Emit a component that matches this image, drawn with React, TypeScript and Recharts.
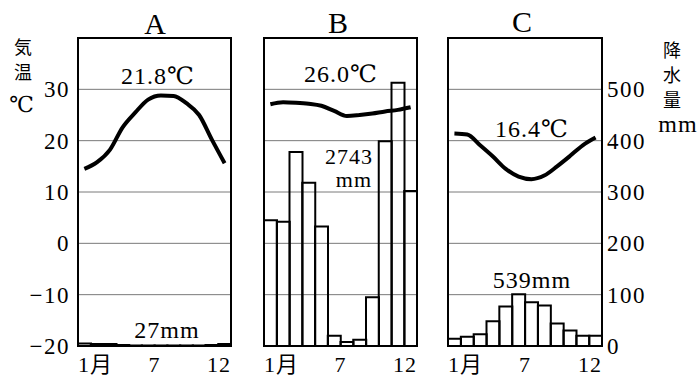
import React from 'react';
import { ComposedChart, Bar, Line, XAxis, YAxis, CartesianGrid, ReferenceArea } from 'recharts';

const months = [1, 2, 3, 4, 5, 6, 7, 8, 9, 10, 11, 12];
const tempA = [14.5, 15.8, 18.2, 22.6, 25.5, 28.0, 28.8, 28.7, 27.3, 25.0, 20.2, 15.6];
const precA = [5, 4, 4, 2, 1, 1, 1, 1, 1, 1, 2, 4];
const tempB = [27.1, 27.5, 27.4, 27.2, 26.8, 25.8, 24.8, 25.0, 25.3, 25.7, 26.0, 26.5];
const precB = [245, 242, 378, 318, 233, 20, 8, 12, 95, 399, 513, 302];
const tempC = [21.4, 21.2, 19.1, 16.9, 14.5, 13.0, 12.5, 13.2, 15.0, 17.0, 19.1, 20.6];
const precC = [14, 18, 23, 48, 77, 101, 85, 79, 44, 30, 20, 20];

const tempTicks = [-20, -10, 0, 10, 20, 30];
const precTicks = [0, 100, 200, 300, 400, 500];
const xTickValues = [0.5, 6.5, 12.5];
const xTickLabels = ['1月', '7', '12'];

const SERIF = '"Liberation Serif", "DejaVu Serif", "Noto Sans CJK JP", serif';

const build = (t: number[], p: number[]) => months.map((m, i) => ({ m, t: t[i], p: p[i] }));

const XTick = (props: any) => {
  const { x, y, payload } = props;
  const idx = xTickValues.indexOf(payload.value);
  const anchor = idx === 0 ? 'start' : idx === 2 ? 'end' : 'middle';
  return (
    <text x={x} y={y} dy="0.71em" textAnchor={anchor} fontFamily={SERIF} fontSize={22} letterSpacing={1} fill="#000">
      {xTickLabels[idx]}
    </text>
  );
};

const fmtT = (v: number) => (v < 0 ? '−' + Math.abs(v) : String(v));

interface PanelProps {
  temp: number[];
  prec: number[];
  left: number;
  width: number;
  margin: { top: number; right: number; bottom: number; left: number };
  showLeft?: boolean;
  showRight?: boolean;
}

const tickStyle = { fill: '#000', fontSize: 23, fontFamily: SERIF, letterSpacing: 1.5 };

const Panel = ({ temp, prec, left, width, margin, showLeft, showRight }: PanelProps) => (
  <div style={{ position: 'absolute', left, top: 0 }}>
    <ComposedChart width={width} height={376} data={build(temp, prec)} margin={margin} barCategoryGap={0} barGap={0}>
      <CartesianGrid vertical={false} yAxisId="t" stroke="#7a7a7a" strokeWidth={1} />
      <XAxis
        dataKey="m"
        type="number"
        domain={[0.5, 12.5]}
        ticks={xTickValues}
        interval={0}
        tickSize={0}
        tickMargin={10}
        axisLine={false}
        tickLine={false}
        tick={<XTick />}
        height={30}
        allowDataOverflow
      />
      <YAxis
        yAxisId="t"
        orientation="left"
        domain={[-20, 40]}
        ticks={tempTicks}
        interval={0}
        allowDataOverflow
        hide={!showLeft}
        width={showLeft ? 78 : 0}
        tickSize={0}
        tickMargin={8}
        axisLine={false}
        tickLine={false}
        tickFormatter={fmtT}
        tick={tickStyle}
      />
      <YAxis
        yAxisId="p"
        orientation="right"
        domain={[0, 600]}
        ticks={precTicks}
        interval={0}
        allowDataOverflow
        hide={!showRight}
        width={showRight ? 97 : 0}
        tickSize={0}
        tickMargin={5}
        axisLine={false}
        tickLine={false}
        tick={{ ...tickStyle, textAnchor: 'start' }}
      />
      <Bar yAxisId="p" dataKey="p" fill="none" stroke="#000" strokeWidth={2} isAnimationActive={false} />
      <Line yAxisId="t" dataKey="t" type="monotone" stroke="#000" strokeWidth={4} dot={false} isAnimationActive={false} />
      <ReferenceArea yAxisId="t" y1={-20} y2={40} fill="none" stroke="#000" strokeWidth={2} ifOverflow="visible" />
    </ComposedChart>
  </div>
);

export default function App() {
  return (
    <div style={{ position: 'absolute', left: 0, top: 0, width: 699, height: 376, background: '#fff', overflow: 'hidden' }}>
      <Panel temp={tempA} prec={precA} left={0} width={240} margin={{ top: 38, right: 9, bottom: 0, left: 0 }} showLeft />
      <Panel temp={tempB} prec={precB} left={240} width={190} margin={{ top: 38, right: 13, bottom: 0, left: 24 }} />
      <Panel temp={tempC} prec={precC} left={430} width={269} margin={{ top: 38, right: 0, bottom: 0, left: 18 }} showRight />
      <svg width={699} height={376} style={{ position: 'absolute', left: 0, top: 0, pointerEvents: 'none' }}>
        <g fontFamily={SERIF} fontSize={30} fill="#000" textAnchor="middle">
          <text x={155} y={34}>A</text>
          <text x={338} y={33}>B</text>
          <text x={522} y={32}>C</text>
        </g>
        <g fontFamily='"Noto Sans CJK JP", sans-serif' fontSize={18} fill="#000" textAnchor="middle">
          <text x={23} y={54}>気</text>
          <text x={23} y={79}>温</text>
          <text x={672} y={57}>降</text>
          <text x={672} y={82}>水</text>
          <text x={672} y={107}>量</text>
        </g>
        <g fontFamily={SERIF} fontSize={24} fill="#000" letterSpacing={1}>
          <text x={22} y={112} textAnchor="middle" fontSize={22}>℃</text>
          <text x={678} y={132} textAnchor="middle">mm</text>
          <text x={158} y={84} textAnchor="middle">21.8℃</text>
          <text x={167} y={338} textAnchor="middle">27mm</text>
          <text x={341} y={82} textAnchor="middle">26.0℃</text>
          <text x={373} y={164} textAnchor="end" fontSize={22}>2743</text>
          <text x={372} y={187} textAnchor="end" fontSize={22}>mm</text>
          <text x={532} y={137} textAnchor="middle">16.4℃</text>
          <text x={532} y={288} textAnchor="middle">539mm</text>
        </g>
      </svg>
    </div>
  );
}
